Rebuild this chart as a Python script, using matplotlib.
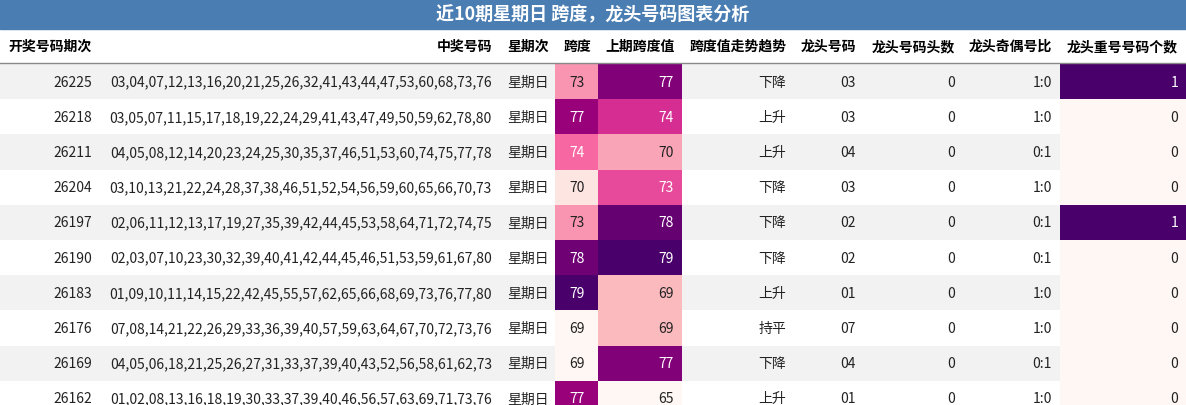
import matplotlib
matplotlib.use("Agg")
import matplotlib.pyplot as plt
from matplotlib import cm
from matplotlib.colors import Normalize

plt.rcParams['font.family'] = ['Noto Sans CJK SC', 'DejaVu Sans']

title = "近10期星期日 跨度，龙头号码图表分析"
headers = ["开奖号码期次", "中奖号码", "星期次", "跨度", "上期跨度值", "跨度值走势趋势",
           "龙头号码", "龙头号码头数", "龙头奇偶号比", "龙头重号号码个数"]
issues = ["26225", "26218", "26211", "26204", "26197", "26190", "26183", "26176", "26169", "26162"]
numbers = [
    "03,04,07,12,13,16,20,21,25,26,32,41,43,44,47,53,60,68,73,76",
    "03,05,07,11,15,17,18,19,22,24,29,41,43,47,49,50,59,62,78,80",
    "04,05,08,12,14,20,23,24,25,30,35,37,46,51,53,60,74,75,77,78",
    "03,10,13,21,22,24,28,37,38,46,51,52,54,56,59,60,65,66,70,73",
    "02,06,11,12,13,17,19,27,35,39,42,44,45,53,58,64,71,72,74,75",
    "02,03,07,10,23,30,32,39,40,41,42,44,45,46,51,53,59,61,67,80",
    "01,09,10,11,14,15,22,42,45,55,57,62,65,66,68,69,73,76,77,80",
    "07,08,14,21,22,26,29,33,36,39,40,57,59,63,64,67,70,72,73,76",
    "04,05,06,18,21,25,26,27,31,33,37,39,40,43,52,56,58,61,62,73",
    "01,02,08,13,16,18,19,30,33,37,39,40,46,56,57,63,69,71,73,76,78"[:59],
]
weekday = ["星期日"] * 10
span = [73, 77, 74, 70, 73, 78, 79, 69, 69, 77]
prev_span = [77, 74, 70, 73, 78, 79, 69, 69, 77, 65]
trend = ["下降", "上升", "上升", "下降", "下降", "下降", "上升", "持平", "下降", "上升"]
head_num = ["03", "03", "04", "03", "02", "02", "01", "07", "04", "01"]
head_count = [0] * 10
odd_even = ["1:0", "1:0", "0:1", "1:0", "0:1", "0:1", "1:0", "1:0", "0:1", "1:0"]
repeat = [1, 0, 0, 0, 1, 0, 0, 0, 0, 0]

W, H = 1186, 406
fig = plt.figure(figsize=(W / 100, H / 100), dpi=100)
ax = fig.add_axes([0, 0, 1, 1])
ax.set_xlim(0, W)
ax.set_ylim(H, 0)
ax.axis('off')

# column edges and text anchors
edges = [0, 100, 500, 555, 598, 682, 795, 865, 962, 1060, 1186]
anchor = [92, 492, 528, 577, 674, 786, 856, 955, 1052, 1178]
align = ['right', 'right', 'center', 'center', 'right', 'right', 'right', 'right', 'right', 'right']
head_align = ['left', 'right', 'center', 'center', 'center', 'center', 'right', 'right', 'right', 'right']
head_x = [8, 492, 528, 577, 640, 738, 856, 955, 1052, 1178]

top_h = 30
hdr_y0, hdr_y1 = 30, 64
row_h = 35.2

ax.add_patch(plt.Rectangle((0, 0), W, top_h, color="#4a7eb3"))
ax.text(W / 2, top_h / 2, title, color="white", fontsize=13, fontweight="bold",
        ha="center", va="center")
for h, x, a in zip(headers, head_x, head_align):
    ax.text(x, (hdr_y0 + hdr_y1) / 2, h, fontsize=10, fontweight="bold", ha=a, va="center")
ax.plot([0, W], [hdr_y1, hdr_y1], color="#888888", lw=1)

cmap = cm.get_cmap("RdPu")
n_span = Normalize(min(span), max(span))
n_prev = Normalize(min(prev_span), max(prev_span))
n_rep = Normalize(0, 1)

for i in range(10):
    y0 = hdr_y1 + 1 + i * row_h
    yc = y0 + row_h / 2
    if i % 2 == 0:
        ax.add_patch(plt.Rectangle((0, y0), W, row_h, color="#f2f2f2", lw=0))
    vals = [issues[i], numbers[i], weekday[i], str(span[i]), str(prev_span[i]), trend[i],
            head_num[i], str(head_count[i]), odd_even[i], str(repeat[i])]
    colours = {3: n_span(span[i]), 4: n_prev(prev_span[i]), 9: n_rep(repeat[i])}
    for j, v in enumerate(vals):
        tc = "#222222"
        if j in colours:
            f = colours[j]
            ax.add_patch(plt.Rectangle((edges[j], y0), edges[j + 1] - edges[j], row_h,
                                       color=cmap(f), lw=0))
            if f > 0.4:
                tc = "white"
        ax.text(anchor[j], yc, v, fontsize=10, ha=align[j], va="center", color=tc)

fig.savefig("out.png", dpi=100)
